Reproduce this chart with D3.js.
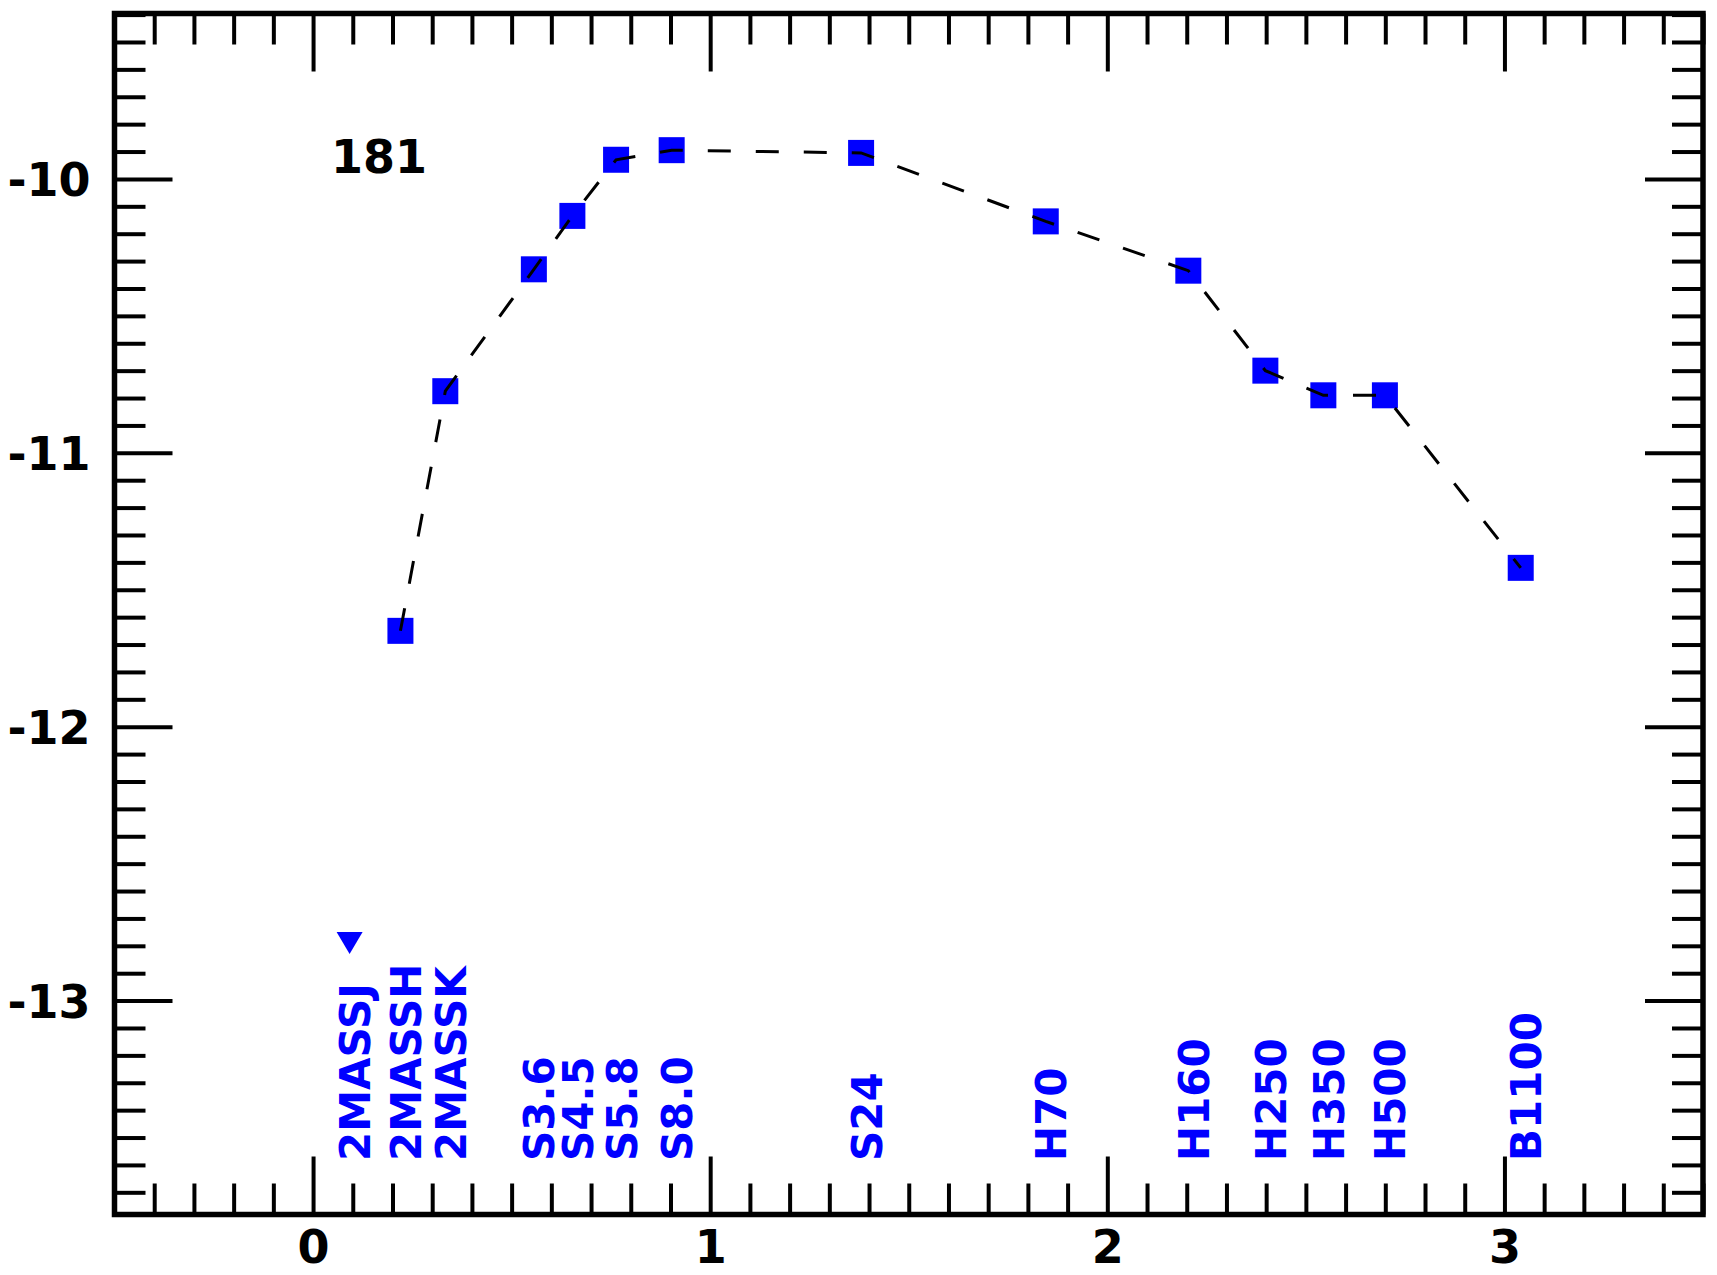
<!DOCTYPE html>
<html>
<head>
<meta charset="utf-8">
<script src="https://cdn.jsdelivr.net/npm/d3@7"></script>
<style>
  html, body { margin: 0; padding: 0; background: #fff; }
  svg { display: block; }
  text { font-family: "DejaVu Sans", sans-serif; font-weight: bold; }
</style>
</head>
<body>
<svg id="chart" width="1717" height="1275"></svg>
<script>
// ---- data ----
const bands      = ["2MASSH", "2MASSK", "S3.6", "S4.5", "S5.8", "S8.0", "S24", "H70", "H160", "H250", "H350", "H500", "B1100"];
const logLambda  = [0.220, 0.333, 0.556, 0.653, 0.763, 0.903, 1.380, 1.845, 2.204, 2.398, 2.544, 2.699, 3.041];
const logFlux    = [-11.65, -10.775, -10.33, -10.135, -9.93, -9.895, -9.905, -10.155, -10.335, -10.70, -10.79, -10.79, -11.42];
const limitBands = ["2MASSJ"];
const limitX     = [0.092];
const limitY     = [-12.79];
const xTicks     = [0, 1, 2, 3];
const yTicks     = [-10, -11, -12, -13];
const sourceId   = "181";

// ---- layout ----
const M = { left: 114.5, right: 1703, top: 13.5, bottom: 1214.5 };
const svg = d3.select("#chart");

const x = d3.scaleLinear().domain([-0.5, 3.5]).range([M.left, M.right]);
const y = d3.scaleLinear().domain([-13.781, -9.396]).range([M.bottom, M.top]);

const xMinor = d3.range(-0.5, 3.5001, 0.1).map(v => +v.toFixed(2)).filter(v => Math.abs(v - Math.round(v)) > 1e-6);
const yMinor = d3.range(-13.7, -9.39, 0.1).map(v => +v.toFixed(2)).filter(v => Math.abs(v - Math.round(v)) > 1e-6);

const FS = 46, MAJ = 58, MIN = 31, TW = 4;
const plainFmt = d => String(d);   // ASCII hyphen-minus, as in the reference

function styleAxis(g) {
  g.select(".domain").remove();
  g.selectAll(".tick line").attr("stroke", "#000").attr("stroke-width", TW);
  g.selectAll(".tick text").attr("fill", "#000").style("font-size", FS + "px").style("font-weight", "bold")
    .style("font-family", "'DejaVu Sans', sans-serif");
}

// bottom axis
svg.append("g").attr("transform", `translate(0,${M.bottom})`)
  .call(d3.axisBottom(x).tickValues(xTicks).tickSize(-MAJ).tickPadding(16).tickFormat(plainFmt))
  .call(styleAxis);
svg.append("g").attr("transform", `translate(0,${M.bottom})`)
  .call(d3.axisBottom(x).tickValues(xMinor).tickSize(-MIN).tickFormat(""))
  .call(styleAxis);
// top axis
svg.append("g").attr("transform", `translate(0,${M.top})`)
  .call(d3.axisTop(x).tickValues(xTicks).tickSize(-MAJ).tickFormat(""))
  .call(styleAxis);
svg.append("g").attr("transform", `translate(0,${M.top})`)
  .call(d3.axisTop(x).tickValues(xMinor).tickSize(-MIN).tickFormat(""))
  .call(styleAxis);
// left axis
svg.append("g").attr("transform", `translate(${M.left},0)`)
  .call(d3.axisLeft(y).tickValues(yTicks).tickSize(-MAJ).tickPadding(24).tickFormat(plainFmt))
  .call(styleAxis)
  .call(g => g.selectAll(".tick text").attr("dy", "0.37em"));
svg.append("g").attr("transform", `translate(${M.left},0)`)
  .call(d3.axisLeft(y).tickValues(yMinor).tickSize(-MIN).tickFormat(""))
  .call(styleAxis);
// right axis
svg.append("g").attr("transform", `translate(${M.right},0)`)
  .call(d3.axisRight(y).tickValues(yTicks).tickSize(-MAJ).tickFormat(""))
  .call(styleAxis);
svg.append("g").attr("transform", `translate(${M.right},0)`)
  .call(d3.axisRight(y).tickValues(yMinor).tickSize(-MIN).tickFormat(""))
  .call(styleAxis);

// frame
svg.append("rect")
  .attr("x", M.left).attr("y", M.top)
  .attr("width", M.right - M.left).attr("height", M.bottom - M.top)
  .attr("fill", "none").attr("stroke", "#000").attr("stroke-width", 5.5);

// source id
svg.append("text")
  .attr("x", x(0.045)).attr("y", y(-9.978))
  .attr("fill", "#000").style("font-size", FS + "px")
  .text(sourceId);

// data
const pts = bands.map((b, i) => ({ band: b, x: logLambda[i], y: logFlux[i] }));
const SQ = 26;
svg.append("g").selectAll("rect").data(pts).join("rect")
  .attr("x", d => x(d.x) - SQ / 2).attr("y", d => y(d.y) - SQ / 2)
  .attr("width", SQ).attr("height", SQ)
  .attr("fill", "#0000ff");

// upper limits (down triangles)
const lims = limitBands.map((b, i) => ({ band: b, x: limitX[i], y: limitY[i] }));
svg.append("g").selectAll("path").data(lims).join("path")
  .attr("transform", d => `translate(${x(d.x)},${y(d.y)})`)
  .attr("d", "M-13,-11 L13,-11 L0,11 Z")
  .attr("fill", "#0000ff");

// dashed connecting line (drawn over the markers)
svg.append("path")
  .datum(pts)
  .attr("d", d3.line().x(d => x(d.x)).y(d => y(d.y)))
  .attr("fill", "none").attr("stroke", "#000")
  .attr("stroke-width", 3).attr("stroke-dasharray", "23,25");

// band labels
const labels = pts.concat(lims);
svg.append("g").selectAll("text").data(labels).join("text")
  .attr("transform", d => `translate(${x(d.x) + 20.5},1161) rotate(-90)`)
  .attr("text-anchor", "start")
  .attr("fill", "#0000ff")
  .style("font-size", "42px")
  .text(d => d.band);
</script>
</body>
</html>
